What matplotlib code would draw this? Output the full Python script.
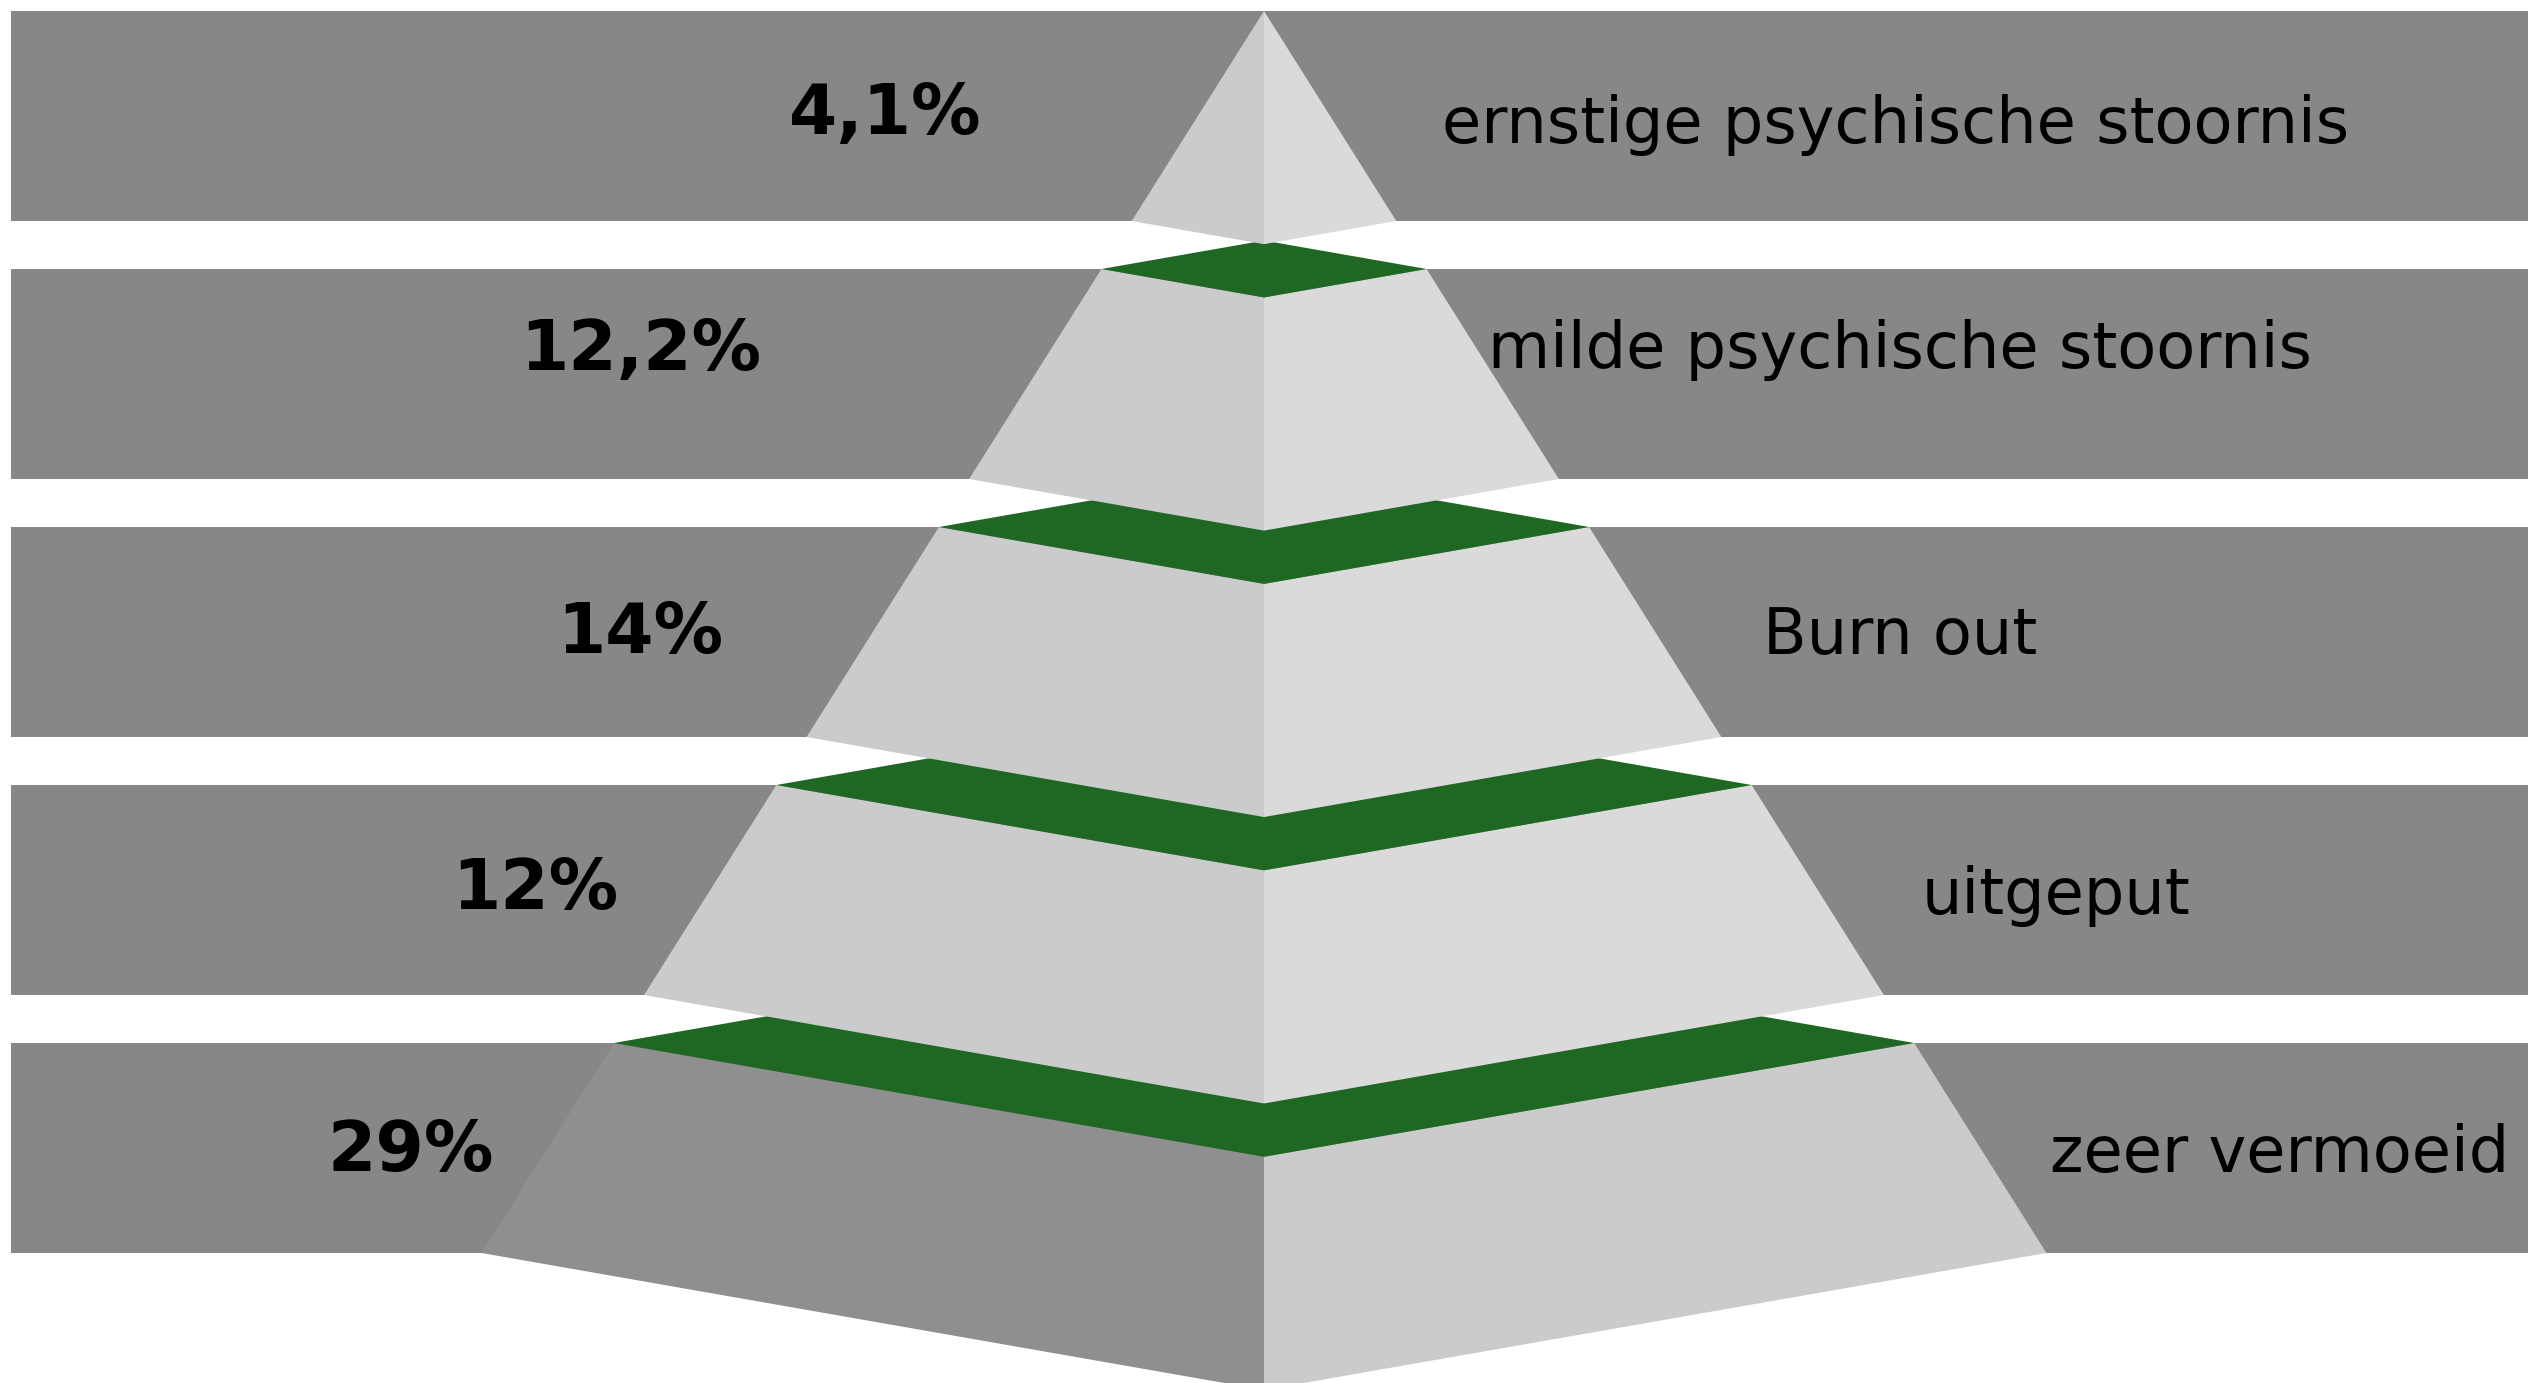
import matplotlib.pyplot as plt
from matplotlib.patches import Polygon, Rectangle

# data, top of the pyramid first
categories = ['ernstige psychische stoornis', 'milde psychische stoornis',
              'Burn out', 'uitgeput', 'zeer vermoeid']
percentages = [4.1, 12.2, 14, 12, 29]

# layout in pixels of the 2528x1383 canvas
W, H = 2528, 1383
bar_left = 11
row_top0 = 11
row_pitch = 258
row_height = 210
cx = 1264           # pyramid axis
slope = 0.63        # half width per pixel down
depth = 0.175       # perspective drop of the front corner

label_x = [1896, 1900, 1900, 2056, 2280]
label_y = [125, 350, 636, 896, 1154]
pct_x = [885, 641, 640, 535, 411]
pct_y = [114, 350, 634, 890, 1152]

bar_color = '#878787'
green = '#1e6823'
left_face = '#cbcbcb'
right_face = '#dadada'
base_left = '#8f8f8f'
base_right = '#cbcbcb'

fig = plt.figure(figsize=(W / 100, H / 100), dpi=100)
ax = fig.add_axes([0, 0, 1, 1])
ax.set_xlim(0, W)
ax.set_ylim(H, 0)
ax.axis('off')


def hw(y):
    return slope * (y - row_top0)


# grey bands behind the pyramid
for i in range(len(categories)):
    top = row_top0 + i * row_pitch
    ax.add_patch(Rectangle((bar_left, top), W - bar_left, row_height,
                           color=bar_color, lw=0, zorder=1))

# pyramid slices, drawn from the bottom up so upper ones cover the back
n = len(categories)
for i in reversed(range(n)):
    top = row_top0 + i * row_pitch
    bot = top + row_height
    wt, wb = hw(top), hw(bot)
    dt, db = depth * wt, depth * wb
    lc, rc = (base_left, base_right) if i == n - 1 else (left_face, right_face)
    z = 2 + (n - i)
    left = [(cx - wt, top), (cx, top + dt), (cx, bot + db), (cx - wb, bot)]
    right = [(cx + wt, top), (cx, top + dt), (cx, bot + db), (cx + wb, bot)]
    ax.add_patch(Polygon(left, closed=True, color=lc, lw=0, zorder=z))
    ax.add_patch(Polygon(right, closed=True, color=rc, lw=0, zorder=z))
    if i > 0:
        cap = [(cx - wt, top), (cx, top - dt), (cx + wt, top), (cx, top + dt)]
        ax.add_patch(Polygon(cap, closed=True, color=green, lw=0, zorder=z))

# texts
for i in range(n):
    pct = ('%g' % percentages[i]).replace('.', ',') + '%'
    ax.text(pct_x[i], pct_y[i], pct, ha='center', va='center',
            fontsize=50, fontweight='bold', color='black', zorder=20)
    ax.text(label_x[i], label_y[i], categories[i], ha='center', va='center',
            fontsize=46, color='black', zorder=20)

plt.savefig('out.png', dpi=100)
